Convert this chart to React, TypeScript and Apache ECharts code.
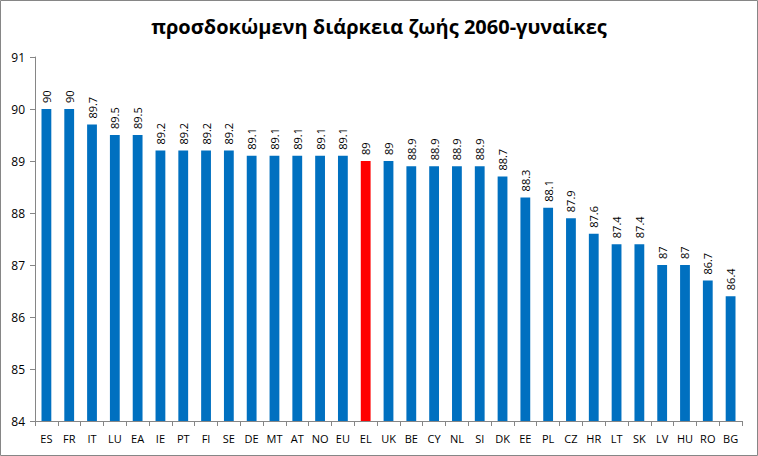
import React, { useEffect, useRef } from "react";
import * as echarts from "echarts";

const categories = ["ES","FR","IT","LU","EA","IE","PT","FI","SE","DE","MT","AT","NO","EU","EL","UK","BE","CY","NL","SI","DK","EE","PL","CZ","HR","LT","SK","LV","HU","RO","BG"];
const values = [90,90,89.7,89.5,89.5,89.2,89.2,89.2,89.2,89.1,89.1,89.1,89.1,89.1,89,89,88.9,88.9,88.9,88.9,88.7,88.3,88.1,87.9,87.6,87.4,87.4,87,87,86.7,86.4];
const highlight = "EL";
const title = "προσδοκώμενη διάρκεια ζωής 2060-γυναίκες";

export default function App() {
  const ref = useRef<HTMLDivElement>(null);
  useEffect(() => {
    const chart = echarts.init(ref.current!, null, { renderer: "svg" });
    chart.setOption({
      animation: false,
      backgroundColor: "#ffffff",
      title: {
        text: title,
        left: "center",
        top: 11,
        textStyle: { fontFamily: "Open Sans", fontWeight: "bold", fontSize: 20, color: "#000" },
      },
      grid: { left: 35, right: 16, top: 57, bottom: 35, containLabel: false },
      xAxis: {
        type: "category",
        data: categories,
        axisLine: { lineStyle: { color: "#868686" } },
        axisTick: { show: true, length: 5, lineStyle: { color: "#868686" } },
        axisLabel: { color: "#000", fontFamily: "Open Sans", fontSize: 11, margin: 12, interval: 0 },
      },
      yAxis: {
        type: "value",
        min: 84,
        max: 91,
        interval: 1,
        splitLine: { show: false },
        axisLine: { show: true, lineStyle: { color: "#868686" } },
        axisTick: { show: true, length: 5, lineStyle: { color: "#868686" } },
        axisLabel: { color: "#000", fontFamily: "Open Sans", fontSize: 12, margin: 10 },
      },
      series: [
        {
          type: "bar",
          barWidth: "43%",
          data: values.map((v, i) => ({
            value: v,
            itemStyle: { color: categories[i] === highlight ? "#FF0000" : "#0070C0" },
          })),
          label: {
            show: true,
            position: "top",
            rotate: 90,
            align: "left",
            verticalAlign: "middle",
            distance: 6,
            color: "#000",
            fontFamily: "Open Sans",
            fontSize: 11,
          },
        },
      ],
      graphic: [
        {
          type: "rect",
          shape: { x: 0.5, y: 0.5, width: 757, height: 455 },
          style: { fill: "none", stroke: "#868686", lineWidth: 1 },
          silent: true,
        },
      ],
    });
    return () => chart.dispose();
  }, []);
  return <div ref={ref} style={{ position: "fixed", left: 0, top: 0, width: 758, height: 456 }} />;
}
